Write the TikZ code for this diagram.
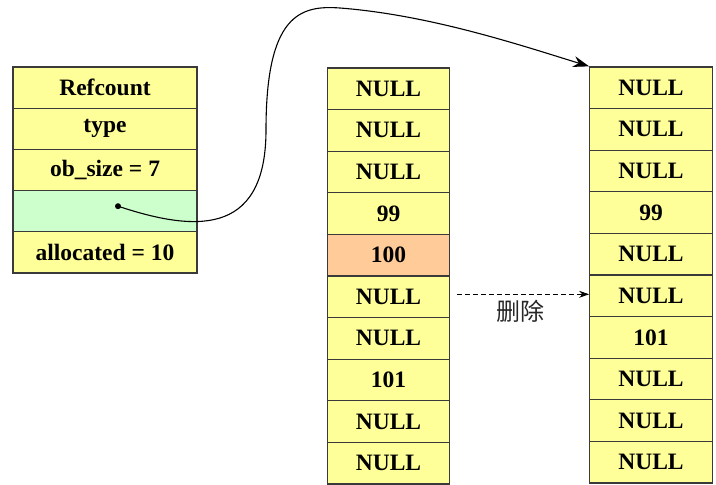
\documentclass[tikz,border=0pt]{standalone}
\usepackage{fontspec}
\setmainfont{Liberation Serif}
\newfontfamily\cellfont{Liberation Serif}
\newfontfamily\cjkfont{Noto Sans CJK SC}
\usepackage{xcolor}
\usepackage{tikz}
\usetikzlibrary{arrows.meta,positioning}

\definecolor{cellyellow}{HTML}{FFFF99}
\definecolor{cellgreen}{HTML}{CCFFCC}
\definecolor{cellorange}{HTML}{FFCC99}
\definecolor{cellline}{HTML}{3A3A3A}

\tikzset{
cell/.style={draw=cellline, line width=1.3pt, inner sep=0pt,
  font=\cellfont\bfseries\fontsize{23.5}{26}\selectfont},
objcell/.style={cell, minimum width=184pt, minimum height=41.2pt},
slotcell/.style={cell, minimum width=122.5pt, minimum height=41.6pt}
}

\begin{document}
\begin{tikzpicture}[x=1pt,y=-1pt]
\useasboundingbox (0,0) rectangle (716,485);

% list object
\foreach \t/\c [count=\i] in {Refcount/cellyellow,type/cellyellow,ob\_size = 7/cellyellow,/cellgreen,allocated = 10/cellyellow} {
\node[objcell, fill=\c] (obj\i) at (105, 67+41.2*\i-20.6) {\t}; }

% items before
\foreach \t/\c [count=\i] in {NULL/cellyellow,NULL/cellyellow,NULL/cellyellow,99/cellyellow,100/cellorange,NULL/cellyellow,NULL/cellyellow,101/cellyellow,NULL/cellyellow,NULL/cellyellow} {
\node[slotcell, fill=\c] (old\i) at (388.5, 68+41.6*\i-20.8) {\t}; }

% items after
\foreach \t [count=\i] in {NULL,NULL,NULL,99,NULL,NULL,101,NULL,NULL,NULL} {
\node[slotcell, fill=cellyellow] (new\i) at (651, 67+41.6*\i-20.8) {\t}; }

\node[circle, fill=black, inner sep=0pt, minimum size=6pt] (ptr) at ([xshift=13pt,yshift=5pt]obj4.center) {};
\draw[line width=1.1pt, -{Stealth[length=16pt,width=11pt]}] (ptr.center) .. controls (190,230) and (266,240) .. (266,130)
  .. controls (266,15) and (300,5) .. (340,8) .. controls (430,15) and (520,45) .. (new1.north west);

\draw[dash pattern=on 5pt off 3pt, line width=1pt, -{Stealth[length=10pt,width=7pt]}] ([xshift=7pt,yshift=2.5pt]old6.east) -- ([yshift=2.5pt]old6.east -| new6.west)
  node[midway, below=2pt, xshift=-3pt, text=black!85, font=\cjkfont\fontsize{24}{26}\selectfont] (del) {删除};
\end{tikzpicture}
\end{document}
